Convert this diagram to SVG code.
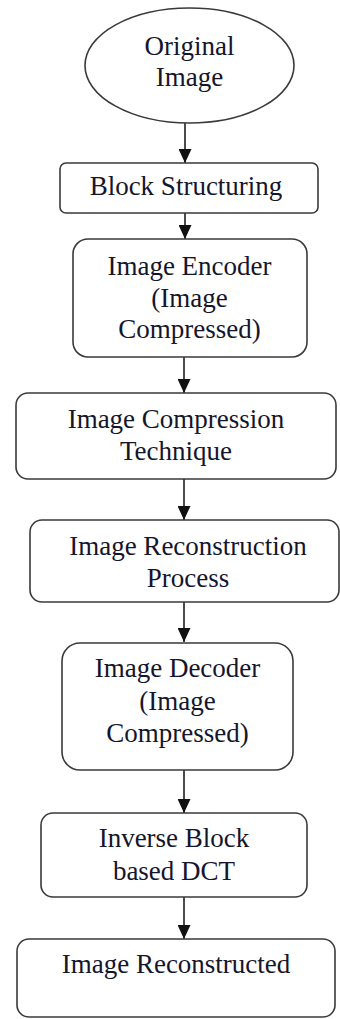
<svg xmlns="http://www.w3.org/2000/svg" width="340" height="1019" viewBox="0 0 340 1019">
<style>
.s{fill:#fff;stroke:#3a3a3a;stroke-width:1.6}
.t{font-family:'Liberation Serif','Times New Roman',serif;font-size:27px;fill:#15152b;text-anchor:middle}
.c{stroke:#111;stroke-width:1.5;fill:none}
</style>
<defs>
<marker id="ah" viewBox="0 0 14 13" refX="14" refY="6.5" markerWidth="14" markerHeight="13" markerUnits="userSpaceOnUse" orient="auto">
<path d="M0,0 L14,6.5 L0,13 Z" fill="#111"/>
</marker>
</defs>
<rect width="340" height="1019" fill="#fff"/>
<g id="connectors">
<line class="c" x1="185" y1="123" x2="185" y2="163" marker-end="url(#ah)"/>
<line class="c" x1="185" y1="213" x2="185" y2="239" marker-end="url(#ah)"/>
<line class="c" x1="184" y1="357" x2="184" y2="393" marker-end="url(#ah)"/>
<line class="c" x1="184" y1="479" x2="184" y2="520" marker-end="url(#ah)"/>
<line class="c" x1="184" y1="602" x2="184" y2="642" marker-end="url(#ah)"/>
<line class="c" x1="184" y1="770" x2="184" y2="813" marker-end="url(#ah)"/>
<line class="c" x1="184" y1="897" x2="184" y2="939" marker-end="url(#ah)"/>
</g>
<g id="n1">
<ellipse class="s" cx="189.5" cy="65.5" rx="104.5" ry="57.5"/>
<text class="t" x="189.5" y="55">Original</text>
<text class="t" x="189.5" y="86">Image</text>
</g>
<g id="n2">
<rect class="s" x="60" y="163" width="258" height="50" rx="6"/>
<text class="t" x="186" y="195">Block Structuring</text>
</g>
<g id="n3">
<rect class="s" x="73" y="239" width="234" height="118" rx="15"/>
<text class="t" x="189.5" y="275">Image Encoder</text>
<text class="t" x="189.5" y="307">(Image</text>
<text class="t" x="189.5" y="338">Compressed)</text>
</g>
<g id="n4">
<rect class="s" x="16" y="393" width="320" height="86" rx="12"/>
<text class="t" x="176" y="428">Image Compression</text>
<text class="t" x="176" y="460">Technique</text>
</g>
<g id="n5">
<rect class="s" x="30" y="520" width="309" height="82" rx="12"/>
<text class="t" x="188" y="555">Image Reconstruction</text>
<text class="t" x="188" y="587">Process</text>
</g>
<g id="n6">
<rect class="s" x="62" y="643" width="231" height="127" rx="18"/>
<text class="t" x="177.5" y="677">Image Decoder</text>
<text class="t" x="177.5" y="710">(Image</text>
<text class="t" x="177.5" y="742">Compressed)</text>
</g>
<g id="n7">
<rect class="s" x="41" y="813" width="266" height="84" rx="12"/>
<text class="t" x="174" y="847">Inverse Block</text>
<text class="t" x="174" y="880">based DCT</text>
</g>
<g id="n8">
<rect class="s" x="17" y="939" width="318" height="78" rx="12"/>
<text class="t" x="176" y="973">Image Reconstructed</text>
</g>
</svg>
